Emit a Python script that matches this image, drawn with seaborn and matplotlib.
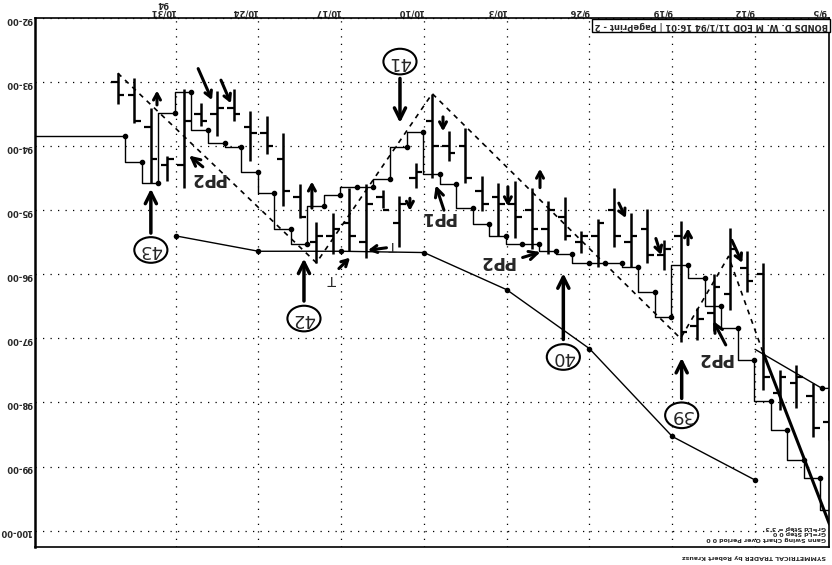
import numpy as np
import matplotlib
matplotlib.use("Agg")
import matplotlib.pyplot as plt
import seaborn as sns
from matplotlib.patches import Ellipse

# daily bars, day 0 = 9/5/94 (prices in points)
bar_low = [97.81, 97.69, 97.42, 97.50, 95.82, 95.63, 95.27, 95.99, 96.52, 95.16,
           95.47, 94.98, 95.05, 94.65, 95.13, 95.32, 94.80, 94.85, 94.65, 94.54,
           94.57, 94.46, 93.71, 93.76, 93.18, 94.27, 94.77, 94.69, 94.59, 94.65,
           95.05, 95.19, 94.59, 93.79, 93.53, 93.45, 93.11, 93.14, 93.32, 93.11,
           94.15, 93.40, 92.93, 92.86]
bar_high = [98.59, 98.54, 98.09, 98.12, 97.81, 96.28, 96.56, 96.88, 97.03, 97.06,
            95.94, 95.82, 95.89, 95.58, 95.89, 95.66, 95.47, 95.68, 95.60, 95.43,
            95.40, 95.01, 94.57, 94.23, 94.49, 94.65, 95.58, 94.96, 95.74, 95.63,
            95.68, 95.82, 95.12, 94.93, 94.12, 94.23, 93.60, 93.84, 93.68, 94.65,
            94.54, 94.57, 93.64, 93.34]
bar_open = [98.50, 98.40, 97.60, 97.60, 97.60, 96.10, 95.60, 96.20, 96.70, 96.90,
            95.60, 95.70, 95.40, 95.40, 95.20, 95.40, 95.40, 95.00, 95.30, 95.10,
            94.90, 94.90, 94.50, 94.10, 94.00, 94.40, 94.90, 95.00, 94.90, 95.40,
            95.30, 95.40, 95.10, 94.70, 94.00, 93.80, 93.50, 93.40, 93.60, 93.60,
            94.20, 94.20, 93.60, 93.20]
bar_close = [98.30, 97.90, 97.70, 97.85, 96.00, 95.90, 96.30, 96.60, 96.80, 95.40,
             95.70, 95.30, 95.50, 95.00, 95.40, 95.50, 95.10, 95.30, 95.00, 94.90,
             94.80, 94.70, 94.00, 94.00, 93.60, 94.50, 95.20, 94.80, 95.50, 95.20,
             95.40, 95.50, 94.80, 94.20, 93.80, 93.70, 93.40, 93.50, 93.50, 94.30,
             94.30, 93.70, 93.20, 93.00]

# gann swing chart values, one per day
swing_val = [99.68, 99.18, 98.90, 98.43, 97.97, 97.34, 96.84, 96.49, 96.05, 95.86,
             96.67, 96.27, 95.88, 95.82, 95.83, 95.82, 95.69, 95.64, 95.52, 95.52,
             95.40, 95.22, 94.96, 94.59, 94.43, 93.78, 94.02, 94.52, 94.63, 94.63,
             94.76, 94.94, 95.52, 95.29, 94.73, 94.41, 94.02, 93.95, 93.74, 93.15,
             93.48, 94.57, 94.24, 93.84]

# weekly line
week_labels = ["9/12", "9/19", "9/26", "10/3", "10/10", "10/17", "10/24", "10/31\n94"]
week_avg = [99.21, 98.53, 97.16, 96.24, 95.66, 95.64, 95.64, 95.40]

# swing zigzag (dashed) and trend lines
zz_day = [43, 31, 24, 9, 6.1, 4]
zz_price = [92.86, 95.82, 93.18, 97.00, 95.72, 97.23]
trend_day = [4, 0]
trend_price = [97.23, 99.90]
thin_day = [4.5, 0.45, 0.0]
thin_price = [97.17, 97.78, 97.78]

price_ticks = [92, 93, 94, 95, 96, 97, 98, 99, 100]

sns.set_style("white")
plt.rcParams['font.family'] = ['DejaVu Sans']

fig = plt.figure(figsize=(8.32, 5.65), dpi=100)
ax = fig.add_axes([35/832, 18/565, 794/832, 529/565])

days = np.arange(len(bar_low))
week_pos = 4.5 + 5*np.arange(len(week_labels))

# grid
for p in price_ticks:
    ax.axhline(p, color='black', lw=0.9, ls=(0, (1, 5)), zorder=0)
for w in week_pos:
    ax.axvline(w, color='black', lw=0.9, ls=(0, (1, 5)), zorder=0)

# OHLC bars
ax.vlines(days, bar_low, bar_high, color='black', lw=1.8)
ax.hlines(bar_open, days - 0.4, days, color='black', lw=1.6)
ax.hlines(bar_close, days, days + 0.4, color='black', lw=1.6)

# swing chart
swing_x = days - 0.45
ax.plot(swing_x, swing_val, drawstyle='steps-post', color='black', lw=1,
        marker='o', ms=3)
ax.plot([swing_x[-1], 48], [swing_val[-1], swing_val[-1]], color='black', lw=1)

# weekly line
sns.lineplot(x=week_pos, y=week_avg, ax=ax, color='black', lw=1, marker='o',
             markersize=4, markeredgewidth=0, sort=False)

ax.plot(zz_day, zz_price, color='black', lw=1.2, ls=(0, (3, 3)))
ax.plot(trend_day, trend_price, color='black', lw=2.2)
ax.plot(thin_day, thin_price, color='black', lw=1, marker='o', ms=3, markevery=[1])

# circled wave counts with arrows
counts = [("39", 8.93, 98.20, 97.98, 97.26),
          ("40", 16.08, 97.29, 97.06, 95.94),
          ("41", 25.95, 92.68, 92.90, 93.68),
          ("42", 31.75, 96.69, 96.46, 95.71),
          ("43", 41.0, 95.62, 95.40, 94.62)]
for lab, d, p, tail, tip in counts:
    ax.add_patch(Ellipse((d, p), 2.0, 0.40, fc='white', ec='black', lw=1.5, zorder=5))
    ax.text(d, p, lab, rotation=180, ha='center', va='center', fontsize=13,
            zorder=6)
    ax.annotate("", xy=(d, tip), xytext=(d, tail),
                arrowprops=dict(arrowstyle='->,head_width=0.4,head_length=0.8',
                                lw=2.5, color='black'), zorder=6)

# PP labels
pps = [("PP2", 37.6, 94.49, 37.73, 94.35, 38.82, 94.12),
       ("PP1", 23.65, 95.10, 23.24, 95.04, 23.84, 94.57),
       ("PP2", 20.09, 95.79, 18.70, 95.75, 17.30, 95.64),
       ("PP2", 6.92, 97.30, 6.19, 97.14, 7.10, 96.69)]
for lab, d, p, td, tp, hd, hp in pps:
    ax.text(d, p, lab, rotation=180, ha='center', va='center', fontsize=12,
            fontweight='bold', zorder=6)
    ax.annotate("", xy=(hd, hp), xytext=(td, tp),
                arrowprops=dict(arrowstyle='->,head_width=0.3,head_length=0.6',
                                lw=2.2, color='black'), zorder=6)

# small bar arrows
small_arrows = [(40.63, 93.40, 40.63, 93.09), (38.21, 92.75, 37.24, 93.32),
                (36.83, 92.93, 36.10, 93.37), (31.27, 95.01, 31.27, 94.51),
                (25.35, 94.77, 25.35, 95.05), (23.35, 93.50, 23.35, 93.81),
                (17.49, 94.69, 17.49, 94.31), (19.43, 94.59, 19.43, 94.98),
                (12.80, 94.85, 12.23, 95.16), (10.54, 95.40, 10.12, 95.74),
                (8.55, 95.58, 8.55, 95.24), (5.97, 95.43, 5.20, 95.86),
                (29.76, 95.94, 28.85, 95.71), (26.60, 95.58, 28.05, 95.63)]
for td, tp, hd, hp in small_arrows:
    ax.annotate("", xy=(hd, hp), xytext=(td, tp),
                arrowprops=dict(arrowstyle='->,head_width=0.25,head_length=0.45',
                                lw=2.2, color='black'), zorder=6)
for d, p in [(30.06, 96.07), (26.4, 95.55)]:
    ax.text(d, p, "T", rotation=180, ha='center', va='center', fontsize=10)

# axes: everything upside down like the scan
ax.set_xlim(48.0, 0.03)
ax.set_ylim(100.255, 92.016)
ax.xaxis.tick_top()
ax.set_xticks(week_pos)
ax.set_xticklabels(week_labels, rotation=180, ha='right', fontsize=6,
                   fontweight='bold', multialignment='center', linespacing=0.95)
ax.set_yticks(price_ticks)
ax.set_yticklabels([f"{p}-00" for p in price_ticks], rotation=180,
                   fontsize=6, fontweight='bold')
ax.tick_params(axis='x', length=0, pad=1)
ax.tick_params(axis='y', length=0, pad=2)
ax.text(0.15, 1.002, "9/5", transform=ax.get_xaxis_transform(), rotation=180,
        ha='right', va='bottom', fontsize=6, fontweight='bold')
for side, sp in ax.spines.items():
    sp.set_color('black')
    sp.set_linewidth(1.2)
ax.spines['left'].set_linewidth(1.8)

ax.text(0.9985, 0.994, "BONDS D. W. M EOD 11/1/94 16:01 | PagePrint - 2",
        transform=ax.transAxes, rotation=180, ha='right', va='top', fontsize=6,
        fontweight='bold',
        bbox=dict(boxstyle='square,pad=0.25', fc='white', ec='black', lw=1))
ax.text(0.996, 0.012, "Gann Swing Chart Over Period 0 0\nGr=Ld Step 0 0\nGr=Ld Step = 3 3",
        transform=ax.transAxes, rotation=180, ha='right', va='bottom',
        fontsize=4.5, fontweight='bold', multialignment='left', linespacing=1.1)
fig.text(826/832, 9/565, "SYMMETRICAL TRADER by Robert Krausz", rotation=180,
         ha='right', va='center', fontsize=4.5, fontweight='bold')

fig.savefig("out.png", dpi=100)
